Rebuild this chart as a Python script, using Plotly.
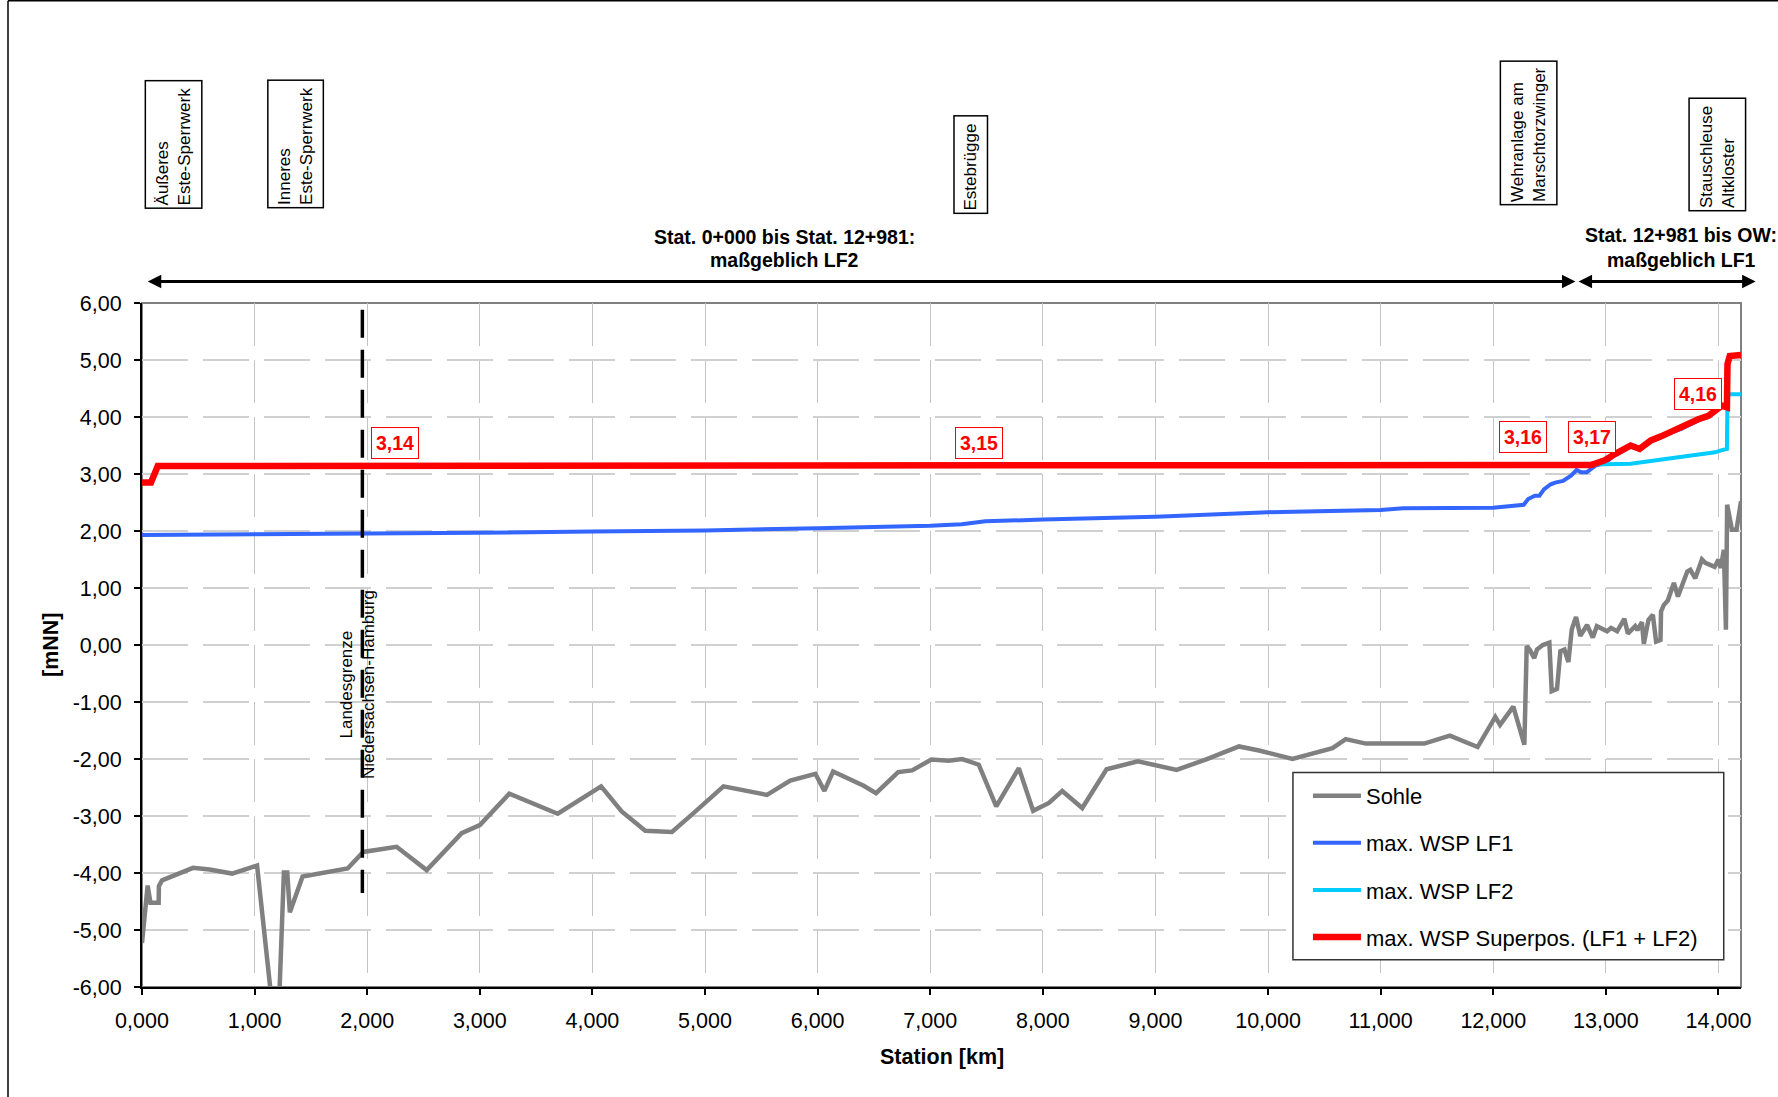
import plotly.graph_objects as go

# ---------------- data ----------------
station_sohle = [0.0, 0.05, 0.075, 0.148, 0.15, 0.178, 0.453, 0.6, 0.8, 1.022, 1.16, 1.215,
                 1.26, 1.29, 1.313, 1.426, 1.826, 1.965, 2.261, 2.528, 2.839, 3.0, 3.262, 3.692,
                 4.077, 4.26, 4.469, 4.706, 4.898, 5.164, 5.55, 5.757, 5.98, 6.06, 6.137, 6.409,
                 6.519, 6.715, 6.839, 7.01, 7.165, 7.283, 7.431, 7.586, 7.787, 7.914, 8.054, 8.172,
                 8.35, 8.566, 8.844, 9.188, 9.446, 9.742, 9.92, 10.217, 10.572, 10.69, 10.868,
                 11.387, 11.615, 11.861, 12.018, 12.06, 12.178, 12.276, 12.297, 12.326, 12.364,
                 12.388, 12.439, 12.498, 12.519, 12.566, 12.596, 12.632, 12.667, 12.697, 12.735,
                 12.773, 12.833, 12.884, 12.92, 13.011, 13.046, 13.1, 13.164, 13.195, 13.26, 13.28,
                 13.32, 13.337, 13.378, 13.417, 13.446, 13.485, 13.49, 13.514, 13.55, 13.604, 13.64,
                 13.684, 13.723, 13.75, 13.794, 13.853, 13.883, 13.966, 14.0, 14.019, 14.048, 14.066,
                 14.077, 14.12, 14.16, 14.2]
sohle = [-5.23, -4.22, -4.52, -4.52, -4.23, -4.13, -3.91, -3.94, -4.01, -3.87, -6.4, -6.4,
         -3.99, -3.99, -4.69, -4.06, -3.92, -3.63, -3.54, -3.95, -3.30, -3.16, -2.61, -2.96,
         -2.48, -2.92, -3.26, -3.28, -2.95, -2.48, -2.63, -2.38, -2.26, -2.56, -2.22, -2.47,
         -2.60, -2.23, -2.20, -2.01, -2.03, -2.00, -2.10, -2.83, -2.16, -2.91, -2.77, -2.56,
         -2.86, -2.18, -2.04, -2.19, -2.01, -1.78, -1.85, -2.00, -1.81, -1.65, -1.73,
         -1.73, -1.59, -1.79, -1.26, -1.40, -1.08, -1.75, -0.02, -0.09, -0.23,
         -0.08, 0.00, 0.04, -0.81, -0.77, -0.11, -0.08, -0.30, 0.27, 0.49,
         0.16, 0.35, 0.13, 0.33, 0.24, 0.30, 0.24, 0.46, 0.20, 0.33, 0.26,
         0.40, 0.02, 0.44, 0.53, 0.06, 0.09, 0.59, 0.70, 0.78, 1.09, 0.85,
         1.11, 1.29, 1.32, 1.17, 1.50, 1.44, 1.37, 1.50, 1.35, 1.67, 0.27,
         2.46, 2.02, 2.02, 2.52]

station_lf1 = [0.0, 1.0, 2.0, 3.0, 4.0, 5.0, 6.0, 7.0, 7.28, 7.49, 8.0, 9.0, 10.0, 11.0, 11.2,
               12.0, 12.27, 12.31, 12.37, 12.41, 12.45, 12.51, 12.55, 12.62, 12.69, 12.74, 12.78,
               12.83, 12.91, 12.99, 13.08, 13.16, 13.22, 13.30, 13.40, 13.49, 13.58, 13.67, 13.74,
               13.82, 13.91, 13.97, 14.03, 14.075, 14.08, 14.10, 14.2]
wsp_lf1 = [1.93, 1.94, 1.95, 1.97, 1.99, 2.01, 2.05, 2.09, 2.12, 2.17, 2.20, 2.25, 2.33, 2.37, 2.40,
           2.41, 2.46, 2.56, 2.62, 2.62, 2.73, 2.82, 2.85, 2.88, 2.97, 3.07, 3.03,
           3.03, 3.15, 3.19, 3.33, 3.42, 3.48, 3.43, 3.57, 3.64, 3.73, 3.79, 3.86,
           3.94, 4.00, 4.09, 4.18, 4.16, 4.93, 5.06, 5.08]

station_lf2 = [0.0, 0.08, 0.14, 3.8, 3.85, 10.0, 10.05, 12.87, 12.99, 13.22, 13.52, 13.82, 13.97,
               14.03, 14.075, 14.08, 14.2]
wsp_lf2 = [2.85, 2.85, 3.14, 3.14, 3.15, 3.15, 3.16, 3.16, 3.17, 3.18, 3.26, 3.34, 3.38,
           3.42, 3.44, 4.40, 4.40]

station_sup = [0.0, 0.08, 0.14, 3.8, 3.85, 10.0, 10.05, 12.87, 12.90, 12.99, 13.08, 13.16, 13.22,
               13.30, 13.40, 13.49, 13.58, 13.67, 13.74, 13.82, 13.91, 13.97, 14.03, 14.075,
               14.08, 14.10, 14.2]
wsp_sup = [2.85, 2.85, 3.14, 3.14, 3.15, 3.15, 3.16, 3.16, 3.18, 3.24, 3.35, 3.44, 3.50,
           3.44, 3.59, 3.66, 3.75, 3.81, 3.88, 3.96, 4.02, 4.11, 4.20, 4.17,
           4.93, 5.07, 5.09]

x_tick_vals = list(range(0, 15))
x_tick_text = ["0,000", "1,000", "2,000", "3,000", "4,000", "5,000", "6,000", "7,000",
               "8,000", "9,000", "10,000", "11,000", "12,000", "13,000", "14,000"]
y_tick_vals = [6, 5, 4, 3, 2, 1, 0, -1, -2, -3, -4, -5, -6]
y_tick_text = ["6,00", "5,00", "4,00", "3,00", "2,00", "1,00", "0,00", "-1,00", "-2,00",
               "-3,00", "-4,00", "-5,00", "-6,00"]

# red value labels
label_text = ["3,14", "3,15", "3,16", "3,17", "4,16"]
label_km = [2.25, 7.43, 12.26, 12.88, 13.82]
label_val = [3.54, 3.54, 3.65, 3.65, 4.40]

# structures (boxed, rotated labels)
struct_text = ["Äußeres<br>Este-Sperrwerk", "Inneres<br>Este-Sperrwerk", "Estebrügge",
               "Wehranlage am<br>Marschtorzwinger", "Stauschleuse<br>Altkloster"]
struct_km = [0.282, 1.361, 7.359, 12.313, 13.986]
struct_ypaper = [1.2322, 1.2322, 1.2026, 1.2487, 1.2170]
struct_len = [122, 122, 92, 138, 107]
struct_thick = [51, 50, 28, 51, 51]

border_km = 1.957
XMAX = 14.2

FONT = "Liberation Sans, Arial, sans-serif"

fig = go.Figure()
fig.add_trace(go.Scatter(x=station_sohle, y=sohle, mode="lines", name="Sohle",
                         line=dict(color="#808080", width=4.5), legendgroup="g1"))
fig.add_trace(go.Scatter(x=station_lf1, y=wsp_lf1, mode="lines", name="max. WSP LF1",
                         line=dict(color="#3366FF", width=4), legendgroup="g2"))
fig.add_trace(go.Scatter(x=station_lf2, y=wsp_lf2, mode="lines", name="max. WSP LF2",
                         line=dict(color="#00CCFF", width=4), legendgroup="g3"))
fig.add_trace(go.Scatter(x=station_sup, y=wsp_sup, mode="lines",
                         name="max. WSP Superpos. (LF1 + LF2)",
                         line=dict(color="#FF0000", width=6.5), legendgroup="g4"))

annotations = []
for t, k, v in zip(label_text, label_km, label_val):
    annotations.append(dict(x=k, y=v, xref="x", yref="y", text="<b>" + t + "</b>",
                            showarrow=False, font=dict(family=FONT, size=19.5, color="#FF0000"),
                            bgcolor="white", bordercolor="#FF0000", borderwidth=1, borderpad=4,
                            xanchor="center", yanchor="middle"))

for t, k, yp, L, Th in zip(struct_text, struct_km, struct_ypaper, struct_len, struct_thick):
    annotations.append(dict(x=k, y=yp, xref="x", yref="paper", text=t, textangle=-90,
                            showarrow=False, font=dict(family=FONT, size=17, color="black"),
                            bgcolor="white", bordercolor="black", borderwidth=1.5, borderpad=2,
                            width=L, height=Th, align="left", valign="middle",
                            xanchor="center", yanchor="middle"))

annotations.append(dict(x=1.92, y=-0.70, xref="x", yref="y",
                        text="Landesgrenze<br>Niedersachsen-Hamburg", textangle=-90,
                        showarrow=False, font=dict(family=FONT, size=17, color="black"),
                        align="center", xanchor="center", yanchor="middle"))

# region texts
for t, k, yp in [("Stat. 0+000 bis Stat. 12+981:", 5.707, 1.0969),
                 ("maßgeblich LF2", 5.707, 1.0625),
                 ("Stat. 12+981 bis OW:", 13.67, 1.0998),
                 ("maßgeblich LF1", 13.67, 1.0625)]:
    annotations.append(dict(x=k, y=yp, xref="x", yref="paper", text="<b>" + t + "</b>",
                            showarrow=False, font=dict(family=FONT, size=19.5, color="black"),
                            xanchor="center", yanchor="middle"))

# double arrows
for head, tail in [(12.73, 0.038), (14.33, 12.744)]:
    annotations.append(dict(x=head, y=1.0316, xref="x", yref="paper", ax=tail, ay=0,
                            axref="x", ayref="pixel", text="",
                            showarrow=True, arrowhead=2, startarrowhead=2, arrowside="end+start",
                            arrowwidth=3, arrowsize=0.9, startarrowsize=0.9,
                            arrowcolor="black", standoff=0, startstandoff=0))

# axis titles
annotations.append(dict(x=0.5, y=-0.1019, xref="paper", yref="paper", text="<b>Station [km]</b>",
                        showarrow=False, font=dict(family=FONT, size=21.5, color="black"),
                        xanchor="center", yanchor="middle"))
annotations.append(dict(x=-0.0569, y=0.5, xref="paper", yref="paper", text="<b>[mNN]</b>",
                        textangle=-90, showarrow=False,
                        font=dict(family=FONT, size=21.5, color="black"),
                        xanchor="center", yanchor="middle"))

shapes = [
    dict(type="rect", xref="paper", yref="paper", x0=0, x1=1, y0=0, y1=1,
         line=dict(color="#808080", width=2), layer="below"),
    dict(type="line", xref="x", yref="y", x0=border_km, x1=border_km, y0=5.88, y1=-4.35,
         line=dict(color="black", width=3.5, dash="28px,12px")),
    # legend frame
    dict(type="rect", xref="paper", yref="paper", x0=0.7198, x1=0.9892, y0=0.0399, y1=0.3137,
         line=dict(color="#333333", width=1.5), fillcolor="white", layer="above"),
    # outer frame of the picture
    dict(type="line", xref="paper", yref="paper", x0=-0.0838, x1=-0.0838, y0=1.442, y1=-0.17,
         line=dict(color="black", width=1.5)),
    dict(type="line", xref="paper", yref="paper", x0=-0.0838, x1=1.03, y0=1.442, y1=1.442,
         line=dict(color="black", width=1.5)),
]

fig.update_layout(
    width=1778, height=1097,
    margin=dict(l=142, r=37, t=303, b=110, pad=0),
    paper_bgcolor="white", plot_bgcolor="white",
    font=dict(family=FONT, color="black", size=21.5),
    showlegend=True,
    legend=dict(x=0.7198, y=0.310, xanchor="left", yanchor="top",
                bgcolor="rgba(0,0,0,0)", borderwidth=0,
                font=dict(family=FONT, size=22, color="black"),
                tracegroupgap=15.5, itemwidth=48, indentation=15,
                traceorder="grouped"),
    annotations=annotations,
    shapes=shapes,
    xaxis=dict(range=[0, XMAX], tickvals=x_tick_vals, ticktext=x_tick_text,
               showgrid=True, gridcolor="#c4c4c4", gridwidth=1.2, griddash="43px,14px",
               showline=True, linecolor="black", linewidth=2, zeroline=False,
               ticks="outside", ticklen=6, tickwidth=1.5, tickcolor="black",
               tickfont=dict(family=FONT, size=21.5, color="black"), ticklabelstandoff=7),
    yaxis=dict(range=[-6, 6], tickvals=y_tick_vals, ticktext=y_tick_text,
               showgrid=True, gridcolor="#d0d0d0", gridwidth=2, griddash="46px,15px",
               showline=True, linecolor="black", linewidth=2, zeroline=False,
               ticks="outside", ticklen=6, tickwidth=1.5, tickcolor="black",
               tickfont=dict(family=FONT, size=21.5, color="black"), ticklabelstandoff=8),
)

fig.write_html("out.html", config={"displayModeBar": False},
               post_script="document.body.style.margin='0';document.body.style.overflow='hidden';")
